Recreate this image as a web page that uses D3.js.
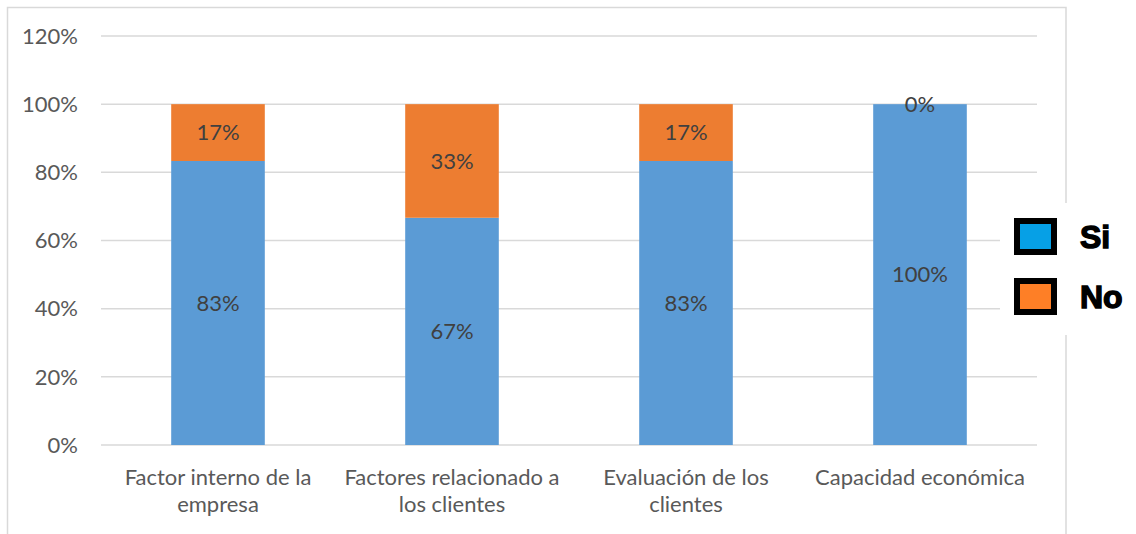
<!DOCTYPE html>
<html>
<head>
<meta charset="utf-8">
<script src="https://cdn.jsdelivr.net/npm/d3@7"></script>
<style>
  body { margin: 0; background: #fff; }
  svg { display: block; }
</style>
</head>
<body>
<svg id="chart" width="1136" height="534"></svg>
<script>
// categories (line breaks as in the original axis)
const categories = [
    "Factor interno de la\nempresa",
    "Factores relacionado a\nlos clientes",
    "Evaluación de los\nclientes",
    "Capacidad económica"
];
const siValues = [83.33, 66.67, 83.33, 100];
const noValues = [16.67, 33.33, 16.67, 0];
const siLabels = ["83%", "67%", "83%", "100%"];
const noLabels = ["17%", "33%", "17%", "0%"];
const yTicks = [0, 20, 40, 60, 80, 100, 120];
const seriesNames = ["Si", "No"];

const svg = d3.select("#chart");
const font = "Lato, 'Open Sans', sans-serif";
const fs = 22;

const plotLeft = 101, plotRight = 1037, plotTop = 36, plotBottom = 445;

const x = d3.scaleBand()
    .domain(categories)
    .range([plotLeft, plotRight])
    .padding(0);
const barW = x.bandwidth() * 0.4;

const y = d3.scaleLinear()
    .domain([0, 120])
    .range([plotBottom, plotTop]);

// outer chart border (open at the bottom)
svg.append("path")
    .attr("d", "M7.5,534 V7.5 H1066 V534")
    .attr("fill", "none")
    .attr("stroke", "#d9d9d9")
    .attr("stroke-width", 1.5);

// gridlines
svg.append("g")
    .selectAll("line")
    .data(yTicks)
    .enter().append("line")
    .attr("x1", plotLeft)
    .attr("x2", plotRight)
    .attr("y1", d => y(d))
    .attr("y2", d => y(d))
    .attr("stroke", "#d9d9d9")
    .attr("stroke-width", 1.5);

// y tick labels
svg.append("g")
    .selectAll("text")
    .data(yTicks)
    .enter().append("text")
    .attr("x", 78)
    .attr("y", d => y(d))
    .attr("dy", "0.35em")
    .attr("text-anchor", "end")
    .attr("font-family", font)
    .attr("font-size", fs)
    .attr("fill", "#595959")
    .text(d => d + "%");

const rows = categories.map((c, i) => ({
    cat: c, si: siValues[i], no: noValues[i], siLab: siLabels[i], noLab: noLabels[i]
}));

const bars = svg.append("g")
    .selectAll("g")
    .data(rows)
    .enter().append("g")
    .attr("transform", d => "translate(" + (x(d.cat) + x.bandwidth() / 2) + ",0)");

bars.append("rect")
    .attr("x", -barW / 2)
    .attr("width", barW)
    .attr("y", d => y(d.si))
    .attr("height", d => y(0) - y(d.si))
    .attr("fill", "#5b9bd5");

bars.append("rect")
    .attr("x", -barW / 2)
    .attr("width", barW)
    .attr("y", d => y(d.si + d.no))
    .attr("height", d => y(d.si) - y(d.si + d.no))
    .attr("fill", "#ed7d31");

// data labels
bars.append("text")
    .attr("y", d => y(d.si / 2))
    .attr("dy", "0.35em")
    .attr("text-anchor", "middle")
    .attr("font-family", font)
    .attr("font-size", fs)
    .attr("fill", "#404040")
    .text(d => d.siLab);

bars.append("text")
    .attr("y", d => y(d.si + d.no / 2))
    .attr("dy", "0.35em")
    .attr("text-anchor", "middle")
    .attr("font-family", font)
    .attr("font-size", fs)
    .attr("fill", "#404040")
    .text(d => d.noLab);

// x category labels
const xl = svg.append("g")
    .selectAll("text")
    .data(categories)
    .enter().append("text")
    .attr("x", d => x(d) + x.bandwidth() / 2)
    .attr("y", 485)
    .attr("text-anchor", "middle")
    .attr("font-family", font)
    .attr("font-size", fs)
    .attr("fill", "#595959");

xl.selectAll("tspan")
    .data(d => d.split("\n"))
    .enter().append("tspan")
    .attr("x", function () { return d3.select(this.parentNode).attr("x"); })
    .attr("dy", (d, i) => i === 0 ? 0 : 27)
    .text(d => d);

// legend (pasted box with white background)
svg.append("rect")
    .attr("x", 1000)
    .attr("y", 203)
    .attr("width", 136)
    .attr("height", 132)
    .attr("fill", "#fff");

const legendColors = ["#06a0e6", "#fe7f26"];
const legend = svg.append("g")
    .selectAll("g")
    .data(seriesNames)
    .enter().append("g")
    .attr("transform", (d, i) => "translate(1014," + (218 + i * 60) + ")");

legend.append("rect")
    .attr("x", 3)
    .attr("y", 3)
    .attr("width", 37)
    .attr("height", 31)
    .attr("fill", (d, i) => legendColors[i])
    .attr("stroke", "#000")
    .attr("stroke-width", 6);

legend.append("text")
    .attr("x", 66)
    .attr("y", 30)
    .attr("font-family", "'Liberation Sans', Arial, sans-serif")
    .attr("font-weight", "bold")
    .attr("font-size", 32)
    .attr("fill", "#000")
    .attr("stroke", "#000")
    .attr("stroke-width", 1.4)
    .text(d => d);
</script>
</body>
</html>
